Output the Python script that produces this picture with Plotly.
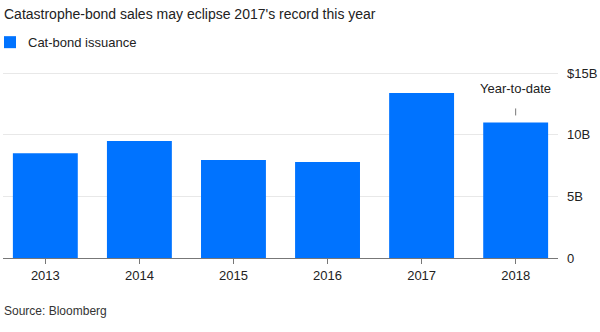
import plotly.graph_objects as go

years = ["2013", "2014", "2015", "2016", "2017", "2018"]
issuance = [8.5, 9.5, 7.95, 7.8, 13.4, 11.0]
y_ticks = [0, 5, 10, 15]
y_tick_labels = ["0", "5B", "10B", "$15B"]

BLUE = "#0073ff"
FONT = "Liberation Sans"
PX_PER_UNIT = (258 - 73) / 15.0
Y_TOP = 15.5
TOP = 258 - Y_TOP * PX_PER_UNIT

fig = go.Figure()
fig.add_trace(go.Bar(
    x=years, y=issuance, marker_color=BLUE, marker_line_width=0,
    width=0.69, name="Cat-bond issuance", showlegend=False,
))

fig.update_layout(
    width=600, height=332,
    margin=dict(l=3, r=42, t=TOP, b=74),
    paper_bgcolor="white", plot_bgcolor="white",
    font=dict(family=FONT, color="#222", size=13),
    xaxis=dict(
        type="category", range=[-0.45, 5.45],
        showgrid=False, showline=True, linecolor="#777", linewidth=1,
        ticks="outside", ticklen=5, tickcolor="#777", tickwidth=1,
        tickfont=dict(size=13, color="#222"),
    ),
    yaxis=dict(
        side="right", range=[0, Y_TOP], tickvals=y_ticks, ticktext=y_tick_labels,
        showgrid=True, gridcolor="#e8e8e8", gridwidth=1, zeroline=False,
        showline=False, ticks="", ticklabelstandoff=8,
        tickfont=dict(size=13, color="#222"),
    ),
    annotations=[
        dict(text="Catastrophe-bond sales may eclipse 2017's record this year",
             xref="paper", yref="paper", x=0, y=1, xanchor="left", yanchor="middle",
             xshift=-1, yshift=TOP - 14, showarrow=False,
             font=dict(size=14, color="#222", family=FONT)),
        dict(text="Cat-bond issuance",
             xref="paper", yref="paper", x=0, y=1, xanchor="left", yanchor="middle",
             xshift=23, yshift=TOP - 42, showarrow=False,
             font=dict(size=13, color="#222", family=FONT)),
        dict(text="Source: Bloomberg",
             xref="paper", yref="paper", x=0, y=0, xanchor="left", yanchor="middle",
             xshift=-1, yshift=-(311 - 258), showarrow=False,
             font=dict(size=12, color="#333", family=FONT)),
        dict(text="Year-to-date",
             xref="x", yref="y", x=5, y=issuance[5], xanchor="center", yanchor="middle",
             yshift=122 - 88, showarrow=False,
             font=dict(size=13, color="#222", family=FONT)),
    ],
    shapes=[
        dict(type="rect", xref="paper", yref="paper",
             xsizemode="pixel", ysizemode="pixel", xanchor=0, yanchor=1,
             x0=1, x1=13, y0=TOP - 36, y1=TOP - 48,
             fillcolor=BLUE, line_width=0),
        dict(type="line", xref="x", yref="y",
             ysizemode="pixel", yanchor=issuance[5],
             x0=5, x1=5, y0=122 - 108, y1=122 - 115,
             line=dict(color="#777", width=1)),
    ],
)

fig.write_html("out.html")
